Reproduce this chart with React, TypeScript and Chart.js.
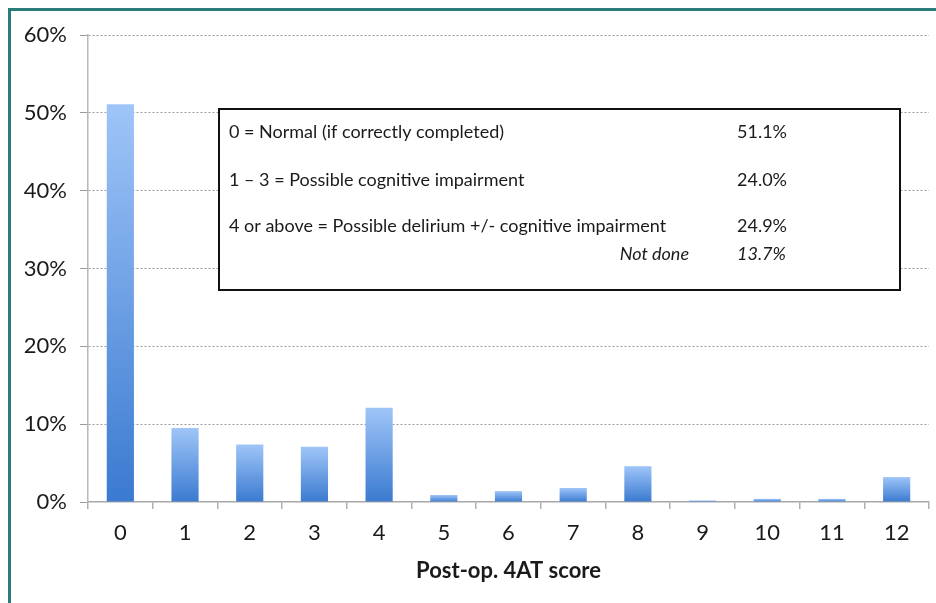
import React, { useEffect, useRef } from "react";
import { Chart, registerables } from "chart.js";

Chart.register(...registerables);

const categories = ["0", "1", "2", "3", "4", "5", "6", "7", "8", "9", "10", "11", "12"];
const percentages = [51.1, 9.5, 7.4, 7.1, 12.1, 0.9, 1.4, 1.8, 4.6, 0.2, 0.4, 0.4, 3.2];
const yTicks = [0, 10, 20, 30, 40, 50, 60];
const xTitle = "Post-op. 4AT score";
const boxLabels = [
  "0 = Normal (if correctly completed)",
  "1 – 3 = Possible cognitive impairment",
  "4 or above = Possible delirium +/- cognitive impairment",
];
const boxValues = ["51.1%", "24.0%", "24.9%"];
const notDoneLabel = "Not done";
const notDoneValue = "13.7%";

const FONT = "Lato, 'Open Sans', sans-serif";

const boxPlugin = {
  id: "summaryBox",
  afterDraw(chart: any) {
    const ctx = chart.ctx;
    ctx.save();
    const x0 = 219, y0 = 109, x1 = 900, y1 = 290;
    ctx.fillStyle = "#ffffff";
    ctx.fillRect(x0, y0, x1 - x0, y1 - y0);
    ctx.lineWidth = 2;
    ctx.strokeStyle = "#111";
    ctx.strokeRect(x0, y0, x1 - x0, y1 - y0);
    ctx.fillStyle = "#1a1a1a";
    ctx.textBaseline = "middle";
    ctx.font = `18px ${FONT}`;
    const rows = [132, 180, 226];
    boxLabels.forEach((t, i) => {
      ctx.textAlign = "left";
      ctx.fillText(t, 229, rows[i]);
      ctx.fillText(boxValues[i], 737, rows[i]);
    });
    ctx.font = `italic 18px ${FONT}`;
    ctx.textAlign = "right";
    ctx.fillText(notDoneLabel, 689, 254);
    ctx.textAlign = "left";
    ctx.fillText(notDoneValue, 737, 254);
    ctx.restore();
  },
};

export default function App() {
  const ref = useRef<HTMLCanvasElement>(null);
  useEffect(() => {
    if (!ref.current) return;
    const chart = new Chart(ref.current, {
      type: "bar",
      data: {
        labels: categories,
        datasets: [
          {
            data: percentages,
            barPercentage: 0.42,
            categoryPercentage: 1,
            borderWidth: 0,
            backgroundColor: (c: any) => {
              const ch = c.chart;
              if (!ch.chartArea || c.raw === undefined) return "#6a9fe4";
              const y = ch.scales.y;
              const top = y.getPixelForValue(c.raw);
              const bottom = y.getPixelForValue(0);
              if (!isFinite(top) || bottom - top < 0.5) return "#4a85d6";
              const g = ch.ctx.createLinearGradient(0, top, 0, bottom);
              g.addColorStop(0, "#9fc5f8");
              g.addColorStop(1, "#3a7ad0");
              return g;
            },
          },
        ],
      },
      options: {
        animation: false,
        responsive: false,
        maintainAspectRatio: false,
        layout: { padding: { left: 0, right: 7, top: 35, bottom: 0 } },
        plugins: { legend: { display: false }, tooltip: { enabled: false } },
        scales: {
          x: {
            afterFit: (s: any) => {
              s.height = 101;
            },
            grid: {
              offset: true,
              drawOnChartArea: false,
              drawTicks: true,
              tickLength: 7,
              color: "#b0b0b0",
              lineWidth: 1.5,
            },
            border: { color: "#a8a8a8", width: 1.5 },
            ticks: {
              color: "#1a1a1a",
              font: { family: FONT, size: 22 },
              padding: 11,
            },
            title: {
              display: true,
              text: xTitle,
              color: "#1a1a1a",
              font: { family: FONT, size: 22, weight: "bold" },
              padding: { top: 0, bottom: 19 },
            },
          },
          y: {
            min: 0,
            max: 60,
            afterFit: (s: any) => {
              s.width = 88;
            },
            afterBuildTicks: (s: any) => {
              s.ticks = yTicks.map((v) => ({ value: v }));
            },
            grid: {
              color: (c: any) => (c.tick && c.tick.value === 0 ? "rgba(0,0,0,0)" : "#9a9a9a"),
              tickColor: "#9a9a9a",
              lineWidth: 1,
              tickLength: 8,
            },
            border: { color: "#b8b8b8", width: 1.5, dash: [2, 2] },
            ticks: {
              color: "#1a1a1a",
              font: { family: FONT, size: 22 },
              padding: 13,
              callback: (v: any) => `${v}%`,
            },
          },
        },
      },
      plugins: [boxPlugin],
    });
    return () => chart.destroy();
  }, []);

  return (
    <div style={{ position: "absolute", left: 0, top: 0, width: 936, height: 603, background: "#fff", overflow: "hidden" }}>
      <div
        style={{
          position: "absolute",
          left: 8,
          top: 8,
          width: 940,
          height: 610,
          borderLeft: "3px solid #2a7b7b",
          borderTop: "3px solid #2a7b7b",
        }}
      />
      <canvas ref={ref} width={936} height={603} style={{ position: "absolute", left: 0, top: 0 }} />
    </div>
  );
}
